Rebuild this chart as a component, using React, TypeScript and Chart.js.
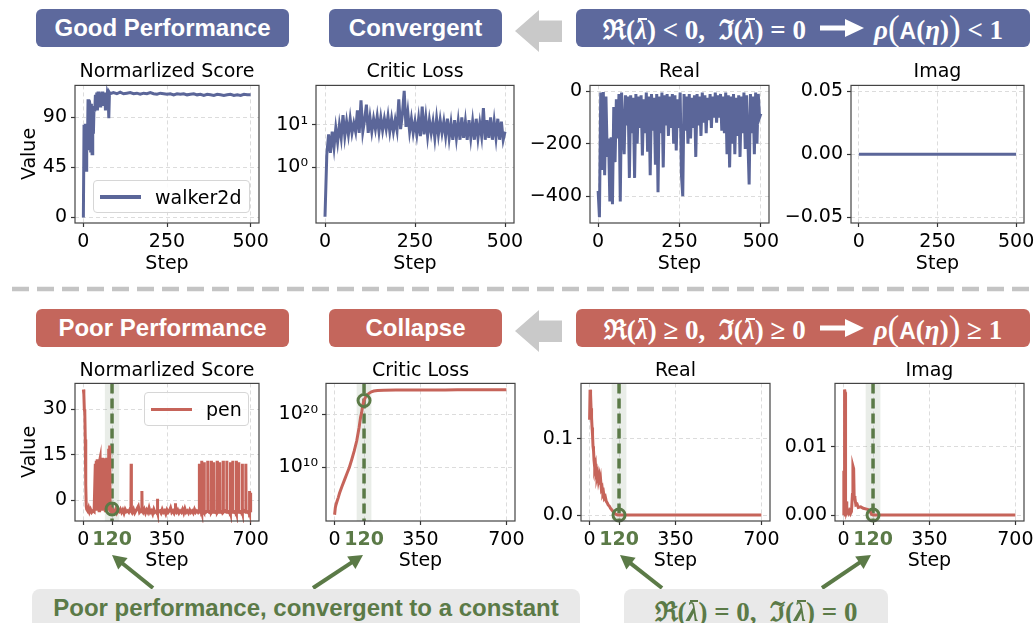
import React, { useEffect, useRef } from "react";
import { Chart, registerables } from "chart.js";
Chart.register(...registerables);

// ---------------- colours & fonts ----------------
const BLUE = "#5b6699";
const RED = "#c6645a";
const GREEN = "#5b7a47";
const BANNER_BLUE = "#5d699d";
const BANNER_RED = "#c4665c";
const BAND = "rgba(120,145,110,0.16)";
const TICK_FONT = "DejaVu Sans";
const SANS = "'Liberation Sans', Arial, sans-serif";
const MATH = "'Liberation Serif', 'DejaVu Serif', serif";

// ---------------- data ----------------
const topXTicks = [0, 250, 500];
const bottomXTicks = [0, 120, 350, 700];
const collapseStep = 120;
const collapseBand = [90, 150];

// walker2d – normalized score
const walkerSteps = [
  0, 2, 4, 6, 8, 10, 12, 14, 16, 18, 20, 22, 24, 26, 28, 30, 32, 34, 36, 38, 40, 42, 44, 46, 48,
  50, 52, 54, 56, 58, 60, 62, 64, 66, 68, 70, 72, 74, 76, 78, 80,
  90, 100, 110, 120, 130, 140, 150, 160, 170, 180, 190, 200, 210, 220, 230, 240, 250, 260, 270, 280,
  290, 300, 310, 320, 330, 340, 350, 360, 370, 380, 390, 400, 410, 420, 430, 440, 450, 460, 470, 480, 490, 500,
];
const walkerScore = [
  -0.5, 83, 45, 84, 42, 80, 62, 106, 60, 105, 100, 58, 102, 57, 90, 75, 100, 95, 110, 98, 112, 96, 113, 105, 112,
  100, 112, 104, 113, 100, 112, 104, 111, 96, 112, 100, 112, 110, 89, 112, 111,
  112, 111, 112.5, 111, 111.5, 112, 111, 111.5, 110.5, 111.5, 111, 112, 111, 110.5, 111.5, 111, 110.5, 111, 110, 111,
  110.5, 111, 110, 110.5, 111, 110, 110.5, 109.5, 110.5, 110, 109.5, 110.5, 110, 109.5, 110, 110.5, 109.5, 110, 109.5, 110.5, 110, 110,
];

// walker2d – critic loss (every 5 steps)
const walkerLossInterval = 5;
const walkerLoss = [
  0.07, 2.0, 6.0, 2.2, 7.0, 3.0, 8.5, 4.0, 10, 5,
  17, 5.5, 12, 6, 14, 6.5, 11, 7, 22, 6.5,
  38, 7, 13, 30, 6.5, 15, 7, 14, 8, 16,
  7, 15, 7.5, 14, 8, 16, 7, 14, 7, 13,
  7.5, 40, 8, 18, 63, 9, 20, 7, 14, 6.5,
  12, 6, 14, 5.5, 27, 6, 15, 5.5, 13, 6.5,
  12, 5, 14, 6, 13, 6.5, 12, 5.5, 14, 5,
  11, 4.5, 13, 5, 12, 4.5, 15, 5, 12, 4.5,
  13, 5, 12, 4.5, 14, 5, 11, 5.5, 25, 4.5,
  13, 5, 15, 4.5, 12, 5, 14, 4.5, 12, 4.5,
  7,
];

// walker2d – real part (every 4 steps)
const walkerRealInterval = 4;
const walkerReal = [
  -380, -480, -5, -300, -3, -320, -20, -250, -180, -420,
  -175, -430, -60, -270, -30, -180, -10, -420, -5, -150,
  -240, -15, -130, -20, -330, -15, -160, -25, -330, -10,
  -200, -20, -140, -15, -245, -30, -160, -5, -230, -20,
  -320, -10, -150, -25, -280, -10, -385, -20, -160, -5,
  -290, -15, -130, -10, -170, -20, -140, -10, -200, -15,
  -225, -30, -140, -5, -320, -400, -10, -150, -20, -200,
  -10, -180, -25, -140, -15, -250, -10, -130, -20, -170,
  -5, -120, -15, -160, -25, -110, -10, -140, -20, -100,
  -5, -120, -15, -100, -10, -150, -20, -160, -5, -240,
  -15, -290, -20, -200, -10, -240, -25, -170, -15, -250,
  -20, -160, -5, -220, -15, -180, -355, -10, -160, -20,
  -240, -5, -200, -10, -100, -85,
];

// walker2d – imaginary part
const walkerImagInterval = 100;
const walkerImag = [0, 0, 0, 0, 0, 0];

// pen – normalized score, early part
const penStepsEarly = [
  0, 2, 4, 6, 8, 10, 12, 14, 18, 22, 26, 30, 35, 40, 45,
  50, 52, 54, 56, 58, 60, 62, 64, 66, 68, 70, 72, 74, 76, 78, 80, 82, 84, 86, 88,
  90, 92, 94, 96, 98, 100, 102, 104, 106, 108, 110, 112, 114, 116, 118, 120,
];
const penScoreEarly = [
  36.5, 35, 30, 29, 20, 5, -2, -3, -3.5, -2.5, -3.8, -3, -4, -3.5, -3.8,
  12, -3, 13, -3.5, 13.5, 12, -3, 13.5, -3.5, 13, 13.8, -3.5, 13.5, -2, 13, 14, -3.5, 13.5, 12, -3,
  13.8, -3.5, 13.2, -2, 14, 13, -3.5, 12, 17, -3, 18, -3.5, -3, -4, -3.2, -3,
];
// pen – normalized score, later part as [step, value]
const penScoreLate: [number, number][] = [
  [125, -3.5], [130, -4], [135, -3], [140, -4.2], [145, -3.5], [150, -3.8], [155, -3], [160, -4], [165, -3.2], [170, -4.3],
  [175, -3], [180, -3.8], [185, -3.5], [190, -4], [195, -3], [199, -3.5], [200, 12], [201, -3.5], [205, -4], [210, -3], [215, -4.2],
  [220, -3.5], [230, -2], [235, -4], [240, -3.5], [244, -3.8], [245, 3], [246, -3.5], [250, -4], [255, -3], [260, -4.2], [265, -3.2],
  [270, -4], [275, -2.5], [280, -4], [285, -3.5], [290, -4.5], [295, -3], [300, -4], [309, -3.5], [310, 0.5], [311, -4], [320, -3.5],
  [325, -4.2], [330, -3], [335, -4], [340, -3.5], [345, -4.5], [350, -3.2], [355, -4], [360, -3.5], [365, -2.5], [370, -4],
  [375, -3.5], [380, -4.3], [384, -3.5], [385, -1], [386, -3.5], [390, -4], [395, -3.2], [400, -4.2], [405, -3.5], [410, -4], [415, -3],
  [420, -4.2], [425, -2.8], [430, -4], [435, -3.5], [440, -4.2], [445, -3.2], [450, -4], [455, -3.5], [460, -4.2], [465, -3],
  [470, -4], [475, -3.5], [480, -4],
  [484, -3.5], [485, 12], [486, -3.5], [490, -4], [494, -3.5], [495, 13], [496, -4], [500, -3.5], [504, -4], [505, 12.5], [506, -3.5],
  [512, -4], [519, -3.5], [520, 13], [521, -3.5], [527, -4], [534, -3.5], [535, 13], [536, -4], [540, -3.5], [544, -4], [545, 12.5],
  [546, -3.5], [552, -4], [559, -3.5], [560, 13], [561, -4], [565, -3.5], [569, -4], [570, 12.5], [571, -3.5], [578, -4],
  [584, -3.5], [585, 13], [586, -4], [592, -3.5], [599, -4], [600, 13], [601, -3.5], [607, -4], [614, -3.5], [615, 12.5], [616, -4],
  [620, -3.5], [624, -4], [625, 13], [626, -3.5], [632, -4], [639, -3.5], [640, 13], [641, -4], [645, -3.5], [649, -4], [650, 12.5],
  [651, -3.5], [657, -4], [664, -3.5], [665, 12], [666, -4], [672, -3.5], [679, -4], [680, 12], [681, -3.5], [688, -4],
  [694, -3.5], [695, 3], [696, -4], [699, -3.5], [700, 2.5],
];

// pen – critic loss
const penLossSteps = [
  0, 3, 6, 10, 15, 20, 30, 40, 50, 60, 70, 80, 90, 100, 106, 110, 114, 117, 120,
  125, 130, 140, 150, 160, 175, 200, 250, 300, 350, 400, 450, 500, 550, 600, 650, 700,
];
const penLoss = [
  11.5, 2.5e2, 1e3, 4e3, 2e4, 1.3e5, 2.5e6, 4e7, 6.3e8, 1e10, 3.2e11, 1.3e13, 1e15, 4e17, 3.2e19, 2e20, 4e21, 1.6e22, 4.5e22,
  1.6e23, 4e23, 1e24, 2e24, 2.8e24, 3.5e24, 4e24, 4.2e24, 4.3e24, 4.4e24, 4.5e24, 4.5e24, 4.6e24, 4.7e24, 4.8e24, 4.9e24, 5e24,
];

// pen – real part
const penRealSteps = [
  0, 2, 4, 6, 8, 10, 12, 14, 16, 18, 20, 22, 24, 26, 28, 30,
  33, 36, 39, 42, 45, 48, 51, 54, 57, 60,
  64, 68, 72, 76, 80,
  85, 90, 95, 100, 105, 110, 115, 120,
  200, 300, 400, 500, 600, 700,
];
const penReal = [
  0.125, 0.1645, 0.158, 0.14, 0.128, 0.115, 0.105, 0.09, 0.085, 0.072, 0.075, 0.062, 0.066, 0.056, 0.058, 0.05,
  0.054, 0.045, 0.05, 0.04, 0.046, 0.034, 0.036, 0.027, 0.029, 0.022,
  0.024, 0.018, 0.016, 0.013, 0.012,
  0.009, 0.007, 0.005, 0.003, 0.0015, 0.0005, 0, 0,
  0, 0, 0, 0, 0, 0,
];

// pen – imaginary part
const penImagSteps = [
  0, 1, 3, 4, 6, 8, 10, 13, 16, 20,
  24, 28, 32, 36, 38, 41, 43, 46, 50, 55,
  60, 70, 80, 90, 100, 108, 114, 120, 300, 500,
  700,
];
const penImag = [
  0, 0.0065, 0.0045, 0.0184, 0.018, 0.0012, 0.002, 0.0005, 0.0008, 0.0003,
  0.0006, 0.0002, 0.0005, 0.003, 0.0072, 0.0068, 0.0028, 0.0025, 0.0015, 0.0016,
  0.0011, 0.0012, 0.001, 0.0009, 0.0008, 0.0005, 0.0001, 0, 0, 0,
  0,
];

// collapse markers (value at step 120)
const penScoreAtCollapse = -2.9;
const penLossAtCollapse = 4.5e22;
const penRealAtCollapse = 0;
const penImagAtCollapse = 0;

// y ticks
const c1YTicks = [0, 45, 90];
const c1YLabels = ["0", "45", "90"];
const c2YTicks = [1, 10];
const c2YLabels = ["10\u2070", "10\u00b9"];
const c3YTicks = [-400, -200, 0];
const c3YLabels = ["\u2212400", "\u2212200", "0"];
const c4YTicks = [-0.05, 0, 0.05];
const c4YLabels = ["\u22120.05", "0.00", "0.05"];
const c5YTicks = [0, 15, 30];
const c5YLabels = ["0", "15", "30"];
const c6YTicks = [1e10, 1e20];
const c6YLabels = ["10\u00b9\u2070", "10\u00b2\u2070"];
const c7YTicks = [0, 0.1];
const c7YLabels = ["0.0", "0.1"];
const c8YTicks = [0, 0.01];
const c8YLabels = ["0.00", "0.01"];

// ---------------- panel specs ----------------
type Spec = {
  id: string;
  title: string;
  px: number; py: number; pw: number; ph: number;
  xMin: number; xMax: number; xTicks: number[];
  logY?: boolean;
  yMin: number; yMax: number; yTicks: number[]; yLabels: string[];
  xs: number[]; ys: number[]; color: string;
  marker?: number;
};

const TOP = 84;
const BOT = 382;
const PH = 139;

const specs: Spec[] = [
  {
    id: "c1", title: "Normarlized Score", px: 75, py: TOP, pw: 184, ph: PH,
    xMin: -25, xMax: 525, xTicks: topXTicks,
    yMin: -5.4, yMax: 118.5, yTicks: c1YTicks, yLabels: c1YLabels,
    xs: walkerSteps, ys: walkerScore, color: BLUE,
  },
  {
    id: "c2", title: "Critic Loss", px: 316, py: TOP, pw: 198, ph: PH,
    xMin: -25, xMax: 525, xTicks: topXTicks, logY: true,
    yMin: 0.0499, yMax: 85, yTicks: c2YTicks, yLabels: c2YLabels,
    xs: walkerLoss.map((_, i) => i * walkerLossInterval), ys: walkerLoss, color: BLUE,
  },
  {
    id: "c3", title: "Real", px: 590, py: TOP, pw: 179, ph: PH,
    xMin: -25, xMax: 525, xTicks: topXTicks,
    yMin: -502, yMax: 22.6, yTicks: c3YTicks, yLabels: c3YLabels,
    xs: walkerReal.map((_, i) => i * walkerRealInterval), ys: walkerReal, color: BLUE,
  },
  {
    id: "c4", title: "Imag", px: 851, py: TOP, pw: 173, ph: PH,
    xMin: -25, xMax: 525, xTicks: topXTicks,
    yMin: -0.0547, yMax: 0.0547, yTicks: c4YTicks, yLabels: c4YLabels,
    xs: walkerImag.map((_, i) => i * walkerImagInterval), ys: walkerImag, color: BLUE,
  },
  {
    id: "c5", title: "Normarlized Score", px: 75, py: BOT, pw: 184, ph: PH,
    xMin: -35, xMax: 735, xTicks: bottomXTicks,
    yMin: -6.85, yMax: 38.5, yTicks: c5YTicks, yLabels: c5YLabels,
    xs: penStepsEarly.concat(penScoreLate.map((p) => p[0])),
    ys: penScoreEarly.concat(penScoreLate.map((p) => p[1])), color: RED, marker: penScoreAtCollapse,
  },
  {
    id: "c6", title: "Critic Loss", px: 326, py: BOT, pw: 189, ph: PH,
    xMin: -35, xMax: 735, xTicks: bottomXTicks, logY: true,
    yMin: 0.76, yMax: 7.6e25, yTicks: c6YTicks, yLabels: c6YLabels,
    xs: penLossSteps, ys: penLoss, color: RED, marker: penLossAtCollapse,
  },
  {
    id: "c7", title: "Real", px: 581, py: BOT, pw: 189, ph: PH,
    xMin: -35, xMax: 735, xTicks: bottomXTicks,
    yMin: -0.0078, yMax: 0.1727, yTicks: c7YTicks, yLabels: c7YLabels,
    xs: penRealSteps, ys: penReal, color: RED, marker: penRealAtCollapse,
  },
  {
    id: "c8", title: "Imag", px: 835, py: BOT, pw: 189, ph: PH,
    xMin: -35, xMax: 735, xTicks: bottomXTicks,
    yMin: -0.00087, yMax: 0.01928, yTicks: c8YTicks, yLabels: c8YLabels,
    xs: penImagSteps, ys: penImag, color: RED, marker: penImagAtCollapse,
  },
];

// ---------------- chart panel ----------------
const YW = 72;
const PT = 14;
const PR = 24;
const XH = 34;

function Panel({ s }: { s: Spec }) {
  const ref = useRef<HTMLCanvasElement>(null);
  const W = s.pw + YW + PR;
  const H = s.ph + PT + XH;

  useEffect(() => {
    const hasCollapse = s.marker !== undefined;
    const decor = {
      id: "decor",
      beforeDatasetsDraw(chart: any) {
        const { ctx, chartArea: a, scales } = chart;
        if (!hasCollapse) return;
        const x = scales.x;
        const b1 = x.getPixelForValue(collapseBand[0]);
        const b2 = x.getPixelForValue(collapseBand[1]);
        ctx.save();
        ctx.fillStyle = BAND;
        ctx.fillRect(b1, a.top, b2 - b1, a.bottom - a.top);
        const xv = x.getPixelForValue(collapseStep);
        ctx.strokeStyle = GREEN;
        ctx.lineWidth = 3.5;
        ctx.setLineDash([10, 5]);
        ctx.beginPath();
        ctx.moveTo(xv, a.top);
        ctx.lineTo(xv, a.bottom);
        ctx.stroke();
        ctx.restore();
      },
      afterDraw(chart: any) {
        const { ctx, chartArea: a } = chart;
        ctx.save();
        ctx.strokeStyle = "#444";
        ctx.lineWidth = 1.2;
        ctx.strokeRect(a.left, a.top, a.right - a.left, a.bottom - a.top);
        ctx.restore();
      },
    };

    const datasets: any[] = [
      {
        data: s.xs.map((x, i) => ({ x, y: s.ys[i] })),
        borderColor: s.color,
        borderWidth: 3,
        pointRadius: 0,
        tension: 0,
        fill: false,
        order: 1,
        clip: 2,
      },
    ];
    if (hasCollapse) {
      datasets.push({
        data: [{ x: collapseStep, y: s.marker }],
        showLine: false,
        pointRadius: 6,
        pointBorderWidth: 3,
        pointBorderColor: GREEN,
        pointBackgroundColor: "rgba(0,0,0,0)",
        borderColor: GREEN,
        order: 0,
        clip: false,
      });
    }

    const tickFont = (ctx: any) => ({
      family: TICK_FONT,
      size: 19,
      weight: ctx && ctx.tick && ctx.tick.value === collapseStep ? "bold" : "normal",
    });
    const tickColor = (ctx: any) =>
      ctx && ctx.tick && ctx.tick.value === collapseStep ? GREEN : "#000";

    const chart = new Chart(ref.current as HTMLCanvasElement, {
      type: "line",
      data: { datasets },
      options: {
        animation: false,
        responsive: false,
        devicePixelRatio: 1,
        events: [],
        layout: { padding: { top: PT, right: PR, left: 0, bottom: 0 } },
        plugins: { legend: { display: false }, tooltip: { enabled: false } },
        scales: {
          x: {
            type: "linear",
            min: s.xMin,
            max: s.xMax,
            afterBuildTicks: (scale: any) => {
              scale.ticks = s.xTicks.map((v) => ({ value: v }));
            },
            afterFit: (scale: any) => {
              scale.height = XH;
            },
            ticks: {
              autoSkip: false,
              maxRotation: 0,
              minRotation: 0,
              padding: 4,
              font: tickFont as any,
              color: tickColor as any,
              callback: (v: any) => String(v),
            },
            grid: {
              color: "#dcdcdc",
              lineWidth: 1,
              drawTicks: true,
              tickLength: 4,
              tickColor: "#333",
              tickWidth: 1.2,
            },
            border: { display: false, dash: [4, 3] },
          },
          y: {
            type: s.logY ? "logarithmic" : "linear",
            min: s.yMin,
            max: s.yMax,
            afterBuildTicks: (scale: any) => {
              scale.ticks = s.yTicks.map((v) => ({ value: v }));
            },
            afterFit: (scale: any) => {
              scale.width = YW;
            },
            ticks: {
              autoSkip: false,
              padding: 4,
              font: { family: TICK_FONT, size: 19 },
              color: "#000",
              callback: (_v: any, i: number) => s.yLabels[i],
            },
            grid: {
              color: "#dcdcdc",
              lineWidth: 1,
              drawTicks: true,
              tickLength: 4,
              tickColor: "#333",
              tickWidth: 1.2,
            },
            border: { display: false, dash: [4, 3] },
          },
        },
      } as any,
      plugins: [decor],
    });
    return () => chart.destroy();
  }, []);

  return (
    <div style={{ position: "absolute", left: s.px - YW, top: s.py - PT, width: W, height: H }}>
      <canvas ref={ref} width={W} height={H} style={{ width: W, height: H, display: "block" }} />
    </div>
  );
}

// ---------------- decorations ----------------
const MATH_SIZE = 27;

function LambdaBar({ color }: { color: string }) {
  return (
    <span style={{ position: "relative", display: "inline-block" }}>
      <i>{"\u03bb"}</i>
      <span
        style={{
          position: "absolute", left: "28%", right: "0%", top: "0.12em", height: 2, background: color,
        }}
      />
    </span>
  );
}

function Conditions({ r1, r2, color }: { r1: string; r2: string; color: string }) {
  return (
    <span style={{ fontFamily: MATH, fontWeight: "bold", fontSize: MATH_SIZE, color, whiteSpace: "nowrap" }}>
      {"\u211c("}
      <LambdaBar color={color} />
      {") " + r1 + " 0,\u2002\u2111("}
      <LambdaBar color={color} />
      {") " + r2 + " 0"}
    </span>
  );
}

function Spectral({ r }: { r: string }) {
  return (
    <span style={{ fontFamily: MATH, fontWeight: "bold", fontSize: MATH_SIZE, color: "#fff", whiteSpace: "nowrap" }}>
      <i>{"\u03c1"}</i>
      <span style={{ fontSize: 35, fontWeight: "normal", position: "relative", top: 1 }}>(</span>
      <span style={{ fontFamily: SANS, fontSize: 23 }}>A</span>
      {"("}
      <i>{"\u03b7"}</i>
      {")"}
      <span style={{ fontSize: 35, fontWeight: "normal", position: "relative", top: 1 }}>)</span>
      {" " + r + " 1"}
    </span>
  );
}

function Box({ x, w, y, color, text }: { x: number; w: number; y: number; color: string; text: string }) {
  return (
    <div
      style={{
        position: "absolute", left: x, top: y, width: w, height: 38, background: color, borderRadius: 6,
        display: "flex", alignItems: "center", justifyContent: "center", color: "#fff",
        fontFamily: SANS, fontWeight: "bold", fontSize: 24, whiteSpace: "nowrap",
      }}
    >
      {text}
    </div>
  );
}

function FormulaBanner({ y, color, r1, r2, r3 }: { y: number; color: string; r1: string; r2: string; r3: string }) {
  return (
    <div
      style={{
        position: "absolute", left: 576, top: y, width: 454, height: 38, background: color, borderRadius: 6,
        display: "flex", alignItems: "center", justifyContent: "center",
      }}
    >
      <Conditions r1={r1} r2={r2} color="#fff" />
      <svg width={44} height={20} style={{ margin: "0 10px 0 14px", display: "block" }}>
        <rect x={0} y={7.5} width={28} height={5} fill="#fff" />
        <polygon points="25,1 44,10 25,19" fill="#fff" />
      </svg>
      <Spectral r={r3} />
    </div>
  );
}

function GrayArrow({ cy }: { cy: number }) {
  const pts = [
    [515, cy], [539, cy - 21], [539, cy - 10.5], [562, cy - 10.5],
    [562, cy + 11], [539, cy + 11], [539, cy + 21],
  ].map((p) => p.join(",")).join(" ");
  return <polygon points={pts} fill="#c9c9c9" />;
}

function GreenArrow({ x1, y1, x2, y2 }: { x1: number; y1: number; x2: number; y2: number }) {
  const dx = x2 - x1;
  const dy = y2 - y1;
  const len = Math.hypot(dx, dy);
  const ux = dx / len;
  const uy = dy / len;
  const hl = 14;
  const hw = 7.5;
  const bx = x2 - ux * hl;
  const by = y2 - uy * hl;
  const pts = `${x2},${y2} ${bx - uy * hw},${by + ux * hw} ${bx + uy * hw},${by - ux * hw}`;
  return (
    <g>
      <line x1={x1} y1={y1} x2={bx + ux * 2} y2={by + uy * 2} stroke={GREEN} strokeWidth={4} />
      <polygon points={pts} fill={GREEN} />
    </g>
  );
}

function Label({ cx, top, text }: { cx: number; top: number; text: string }) {
  return (
    <div
      style={{
        position: "absolute", left: cx, top, transform: "translateX(-50%)", whiteSpace: "nowrap",
        fontFamily: TICK_FONT, fontSize: 19, lineHeight: "19px", color: "#000",
      }}
    >
      {text}
    </div>
  );
}

function ValueLabel({ cy }: { cy: number }) {
  return (
    <div
      style={{
        position: "absolute", left: 28, top: cy, transform: "translate(-50%,-50%) rotate(-90deg)",
        whiteSpace: "nowrap", fontFamily: TICK_FONT, fontSize: 19, lineHeight: "19px", color: "#000",
      }}
    >
      Value
    </div>
  );
}

function Legend({ x, y, w, h, color, text, textLeft }: { x: number; y: number; w: number; h: number; color: string; text: string; textLeft: number }) {
  return (
    <div
      style={{
        position: "absolute", left: x, top: y, width: w, height: h, boxSizing: "border-box",
        border: "1px solid #d6d6d6", borderRadius: 4, background: "rgba(255,255,255,0.85)",
      }}
    >
      <div style={{ position: "absolute", left: 6, top: h / 2 - 2.5, width: 41, height: 3.5, background: color }} />
      <div
        style={{
          position: "absolute", left: textLeft, top: h / 2 - 11, fontFamily: TICK_FONT, fontSize: 19,
          lineHeight: "21px", color: "#000", whiteSpace: "nowrap",
        }}
      >
        {text}
      </div>
    </div>
  );
}

export default function App() {
  return (
    <div
      style={{
        position: "absolute", left: 0, top: 0, width: 1034, height: 623, overflow: "hidden",
        background: "#fff", fontFamily: SANS,
      }}
    >
      {/* banners */}
      <Box x={36} w={253} y={9} color={BANNER_BLUE} text="Good Performance" />
      <Box x={329} w={173} y={9} color={BANNER_BLUE} text="Convergent" />
      <FormulaBanner y={9} color={BANNER_BLUE} r1="<" r2="=" r3="<" />
      <Box x={36} w={253} y={309} color={BANNER_RED} text="Poor Performance" />
      <Box x={329} w={173} y={309} color={BANNER_RED} text="Collapse" />
      <FormulaBanner y={309} color={BANNER_RED} r1={"\u2265"} r2={"\u2265"} r3={"\u2265"} />

      {/* charts */}
      {specs.map((s) => (
        <Panel key={s.id} s={s} />
      ))}

      {/* titles / axis labels */}
      {specs.map((s) => (
        <Label key={s.id + "t"} cx={s.px + s.pw / 2} top={s.py === TOP ? 61 : 359.5} text={s.title} />
      ))}
      {specs.map((s) => (
        <Label key={s.id + "s"} cx={s.px + s.pw / 2} top={s.py === TOP ? 253 : 549.5} text="Step" />
      ))}
      <ValueLabel cy={154} />
      <ValueLabel cy={452} />

      {/* legends */}
      <Legend x={93} y={180} w={157} h={33} color={BLUE} text="walker2d" textLeft={61} />
      <Legend x={144} y={392} w={105} h={34} color={RED} text="pen" textLeft={61} />

      {/* overlay shapes */}
      <svg width={1034} height={623} style={{ position: "absolute", left: 0, top: 0, pointerEvents: "none" }}>
        <GrayArrow cy={31} />
        <GrayArrow cy={331} />
        <line x1={12} y1={289} x2={1032} y2={289} stroke="#c4c4c4" strokeWidth={4.5} strokeDasharray="17 8" />
        <GreenArrow x1={153} y1={588} x2={112} y2={555} />
        <GreenArrow x1={313} y1={588} x2={363} y2={555} />
        <GreenArrow x1={662} y1={588} x2={620} y2={555} />
        <GreenArrow x1={822} y1={588} x2={871} y2={555} />
      </svg>

      {/* bottom annotations */}
      <div
        style={{
          position: "absolute", left: 32, top: 589, width: 548, height: 44, background: "#e9e9e9", borderRadius: 8,
          display: "flex", justifyContent: "center", alignItems: "flex-start",
        }}
      >
        <span
          style={{
            marginTop: 7, fontFamily: SANS, fontWeight: "bold", fontSize: 24, lineHeight: "24px",
            color: GREEN, whiteSpace: "nowrap",
          }}
        >
          Poor performance, convergent to a constant
        </span>
      </div>
      <div
        style={{
          position: "absolute", left: 624, top: 589, width: 264, height: 44, background: "#e9e9e9", borderRadius: 8,
          display: "flex", justifyContent: "center", alignItems: "flex-start", paddingTop: 3, boxSizing: "border-box",
        }}
      >
        <Conditions r1="=" r2="=" color={GREEN} />
      </div>
    </div>
  );
}
